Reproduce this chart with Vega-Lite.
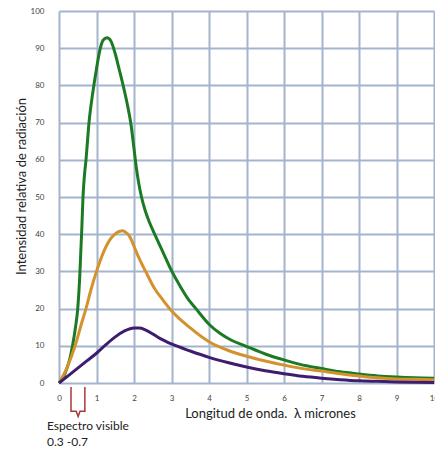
{
  "$schema": "https://vega.github.io/schema/vega-lite/v6.json",
  "autosize": {"type": "none"},
  "width": 375,
  "height": 372,
  "padding": {"left": 59, "top": 11, "right": 1, "bottom": 66},
  "background": "white",
  "config": {
    "view": {"stroke": null},
    "font": "Lato"
  },
  "datasets": {
    "curves": [
      {"s": "A", "x": 0, "y": 0}, {"s": "A", "x": 0.1, "y": 1.2}, {"s": "A", "x": 0.2, "y": 3.6}, {"s": "A", "x": 0.3, "y": 7}, {"s": "A", "x": 0.36, "y": 10}, {"s": "A", "x": 0.44, "y": 15}, {"s": "A", "x": 0.5, "y": 20}, {"s": "A", "x": 0.55, "y": 28}, {"s": "A", "x": 0.58, "y": 35}, {"s": "A", "x": 0.61, "y": 42}, {"s": "A", "x": 0.64, "y": 50}, {"s": "A", "x": 0.68, "y": 56}, {"s": "A", "x": 0.72, "y": 60}, {"s": "A", "x": 0.8, "y": 70}, {"s": "A", "x": 0.9, "y": 78}, {"s": "A", "x": 1.0, "y": 84.5}, {"s": "A", "x": 1.09, "y": 89.5}, {"s": "A", "x": 1.18, "y": 92.2}, {"s": "A", "x": 1.28, "y": 92.8}, {"s": "A", "x": 1.38, "y": 92}, {"s": "A", "x": 1.5, "y": 88.5}, {"s": "A", "x": 1.6, "y": 84.5}, {"s": "A", "x": 1.71, "y": 80}, {"s": "A", "x": 1.82, "y": 75}, {"s": "A", "x": 1.92, "y": 69.5}, {"s": "A", "x": 2.0, "y": 63}, {"s": "A", "x": 2.06, "y": 58}, {"s": "A", "x": 2.13, "y": 53.5}, {"s": "A", "x": 2.2, "y": 50}, {"s": "A", "x": 2.3, "y": 46.3}, {"s": "A", "x": 2.42, "y": 43}, {"s": "A", "x": 2.56, "y": 39.8}, {"s": "A", "x": 2.78, "y": 35}, {"s": "A", "x": 3.0, "y": 30.2}, {"s": "A", "x": 3.25, "y": 25.7}, {"s": "A", "x": 3.45, "y": 22.5}, {"s": "A", "x": 3.65, "y": 20}, {"s": "A", "x": 4.0, "y": 15.8}, {"s": "A", "x": 4.3, "y": 13.3}, {"s": "A", "x": 4.6, "y": 11.5}, {"s": "A", "x": 4.96, "y": 10}, {"s": "A", "x": 5.5, "y": 7.8}, {"s": "A", "x": 6.0, "y": 6.2}, {"s": "A", "x": 6.43, "y": 5.0}, {"s": "A", "x": 7.0, "y": 3.9}, {"s": "A", "x": 7.5, "y": 3.0}, {"s": "A", "x": 8.0, "y": 2.4}, {"s": "A", "x": 8.5, "y": 1.9}, {"s": "A", "x": 9.0, "y": 1.6}, {"s": "A", "x": 9.5, "y": 1.4}, {"s": "A", "x": 10.0, "y": 1.3},
      {"s": "B", "x": 0, "y": 0}, {"s": "B", "x": 0.2, "y": 3.8}, {"s": "B", "x": 0.43, "y": 10}, {"s": "B", "x": 0.6, "y": 16}, {"s": "B", "x": 0.72, "y": 20}, {"s": "B", "x": 0.85, "y": 25}, {"s": "B", "x": 1.0, "y": 30}, {"s": "B", "x": 1.18, "y": 35}, {"s": "B", "x": 1.35, "y": 38.4}, {"s": "B", "x": 1.5, "y": 40.1}, {"s": "B", "x": 1.62, "y": 40.8}, {"s": "B", "x": 1.7, "y": 40.9}, {"s": "B", "x": 1.78, "y": 40.5}, {"s": "B", "x": 1.87, "y": 39.6}, {"s": "B", "x": 1.95, "y": 38}, {"s": "B", "x": 2.05, "y": 35.5}, {"s": "B", "x": 2.15, "y": 33.2}, {"s": "B", "x": 2.31, "y": 30}, {"s": "B", "x": 2.56, "y": 25.2}, {"s": "B", "x": 2.75, "y": 22.6}, {"s": "B", "x": 3.0, "y": 19.4}, {"s": "B", "x": 3.5, "y": 14.8}, {"s": "B", "x": 4.0, "y": 11.1}, {"s": "B", "x": 4.5, "y": 8.8}, {"s": "B", "x": 5.0, "y": 7.2}, {"s": "B", "x": 5.5, "y": 5.9}, {"s": "B", "x": 6.0, "y": 4.8}, {"s": "B", "x": 6.43, "y": 4.0}, {"s": "B", "x": 7.0, "y": 3.2}, {"s": "B", "x": 7.5, "y": 2.5}, {"s": "B", "x": 8.0, "y": 1.9}, {"s": "B", "x": 8.5, "y": 1.4}, {"s": "B", "x": 9.0, "y": 1.1}, {"s": "B", "x": 9.5, "y": 1.0}, {"s": "B", "x": 10.0, "y": 0.9},
      {"s": "C", "x": 0, "y": 0}, {"s": "C", "x": 0.25, "y": 2}, {"s": "C", "x": 0.5, "y": 4}, {"s": "C", "x": 0.75, "y": 6}, {"s": "C", "x": 1.0, "y": 8}, {"s": "C", "x": 1.25, "y": 10.3}, {"s": "C", "x": 1.5, "y": 12.4}, {"s": "C", "x": 1.75, "y": 14}, {"s": "C", "x": 2.0, "y": 14.8}, {"s": "C", "x": 2.15, "y": 14.8}, {"s": "C", "x": 2.3, "y": 14.3}, {"s": "C", "x": 2.5, "y": 13.2}, {"s": "C", "x": 2.69, "y": 12.0}, {"s": "C", "x": 3.0, "y": 10.5}, {"s": "C", "x": 3.5, "y": 8.6}, {"s": "C", "x": 4.0, "y": 6.9}, {"s": "C", "x": 4.5, "y": 5.5}, {"s": "C", "x": 5.0, "y": 4.3}, {"s": "C", "x": 5.5, "y": 3.3}, {"s": "C", "x": 6.0, "y": 2.5}, {"s": "C", "x": 6.5, "y": 1.8}, {"s": "C", "x": 7.0, "y": 1.3}, {"s": "C", "x": 7.5, "y": 0.9}, {"s": "C", "x": 8.0, "y": 0.6}, {"s": "C", "x": 8.5, "y": 0.45}, {"s": "C", "x": 9.0, "y": 0.3}, {"s": "C", "x": 9.5, "y": 0.2}, {"s": "C", "x": 10.0, "y": 0.15}
    ],
    "bracket": [
      {"o": 1, "x": 0.32, "y": -1.1}, {"o": 2, "x": 0.32, "y": -7.6}, {"o": 3, "x": 0.46, "y": -7.6}, {"o": 4, "x": 0.51, "y": -9}, {"o": 5, "x": 0.56, "y": -7.6}, {"o": 6, "x": 0.69, "y": -7.6}, {"o": 7, "x": 0.69, "y": -1.1}
    ],
    "notes": [
      {"t": "Espectro visible", "x": -0.32, "y": -11.6},
      {"t": "0.3 -0.7", "x": -0.32, "y": -15.9}
    ]
  },
  "encoding": {
    "x": {
      "field": "x", "type": "quantitative",
      "scale": {"domain": [0, 10], "nice": false},
      "axis": {
        "values": [0, 1, 2, 3, 4, 5, 6, 7, 8, 9, 10],
        "tickCount": 20, "format": "d",
        "labelOverlap": false, "labelBound": false, "labelFlush": false,
        "grid": true, "gridColor": "#a3b4cd", "gridWidth": 2, "gridOpacity": 1,
        "domain": false, "ticks": false,
        "labelFontSize": 8, "labelColor": "#444", "labelPadding": 11, "labelFont": "Lato",
        "title": "Longitud de onda.\u00a0 λ micrones",
        "titleFont": "Lato", "titleFontSize": 13, "titleFontWeight": "normal", "titleColor": "#222",
        "titleX": 211, "titleY": 30, "titleBaseline": "middle"
      }
    },
    "y": {
      "field": "y", "type": "quantitative",
      "scale": {"domain": [0, 100], "nice": false},
      "axis": {
        "values": [0, 10, 20, 30, 40, 50, 60, 70, 80, 90, 100],
        "tickCount": 20, "format": "d",
        "labelOverlap": false, "labelBound": false, "labelFlush": false,
        "grid": true, "gridColor": "#a3b4cd", "gridWidth": 2, "gridOpacity": 1,
        "domain": false, "ticks": false,
        "labelFontSize": 8, "labelColor": "#444", "labelPadding": 15, "labelFont": "Lato",
        "title": "Intensidad relativa de radiación",
        "titleFont": "Lato", "titleFontSize": 13, "titleFontWeight": "normal", "titleColor": "#222",
        "titleX": -38, "titleY": 175, "titleBaseline": "middle", "titleAngle": -90
      }
    }
  },
  "layer": [
    {
      "data": {"name": "curves"},
      "mark": {"type": "line", "interpolate": "monotone", "strokeWidth": 3, "clip": false},
      "encoding": {
        "color": {
          "field": "s", "type": "nominal",
          "scale": {"domain": ["A", "B", "C"], "range": ["#1d7a24", "#d3922c", "#3f1d6e"]},
          "legend": null
        }
      }
    },
    {
      "data": {"name": "bracket"},
      "mark": {"type": "line", "color": "#a83838", "strokeWidth": 1.5, "clip": false},
      "encoding": {
        "order": {"field": "o", "type": "quantitative"}
      }
    },
    {
      "data": {"name": "notes"},
      "mark": {"type": "text", "align": "left", "baseline": "middle", "font": "Lato", "fontSize": 12, "color": "#222", "clip": false},
      "encoding": {
        "text": {"field": "t"}
      }
    }
  ]
}
